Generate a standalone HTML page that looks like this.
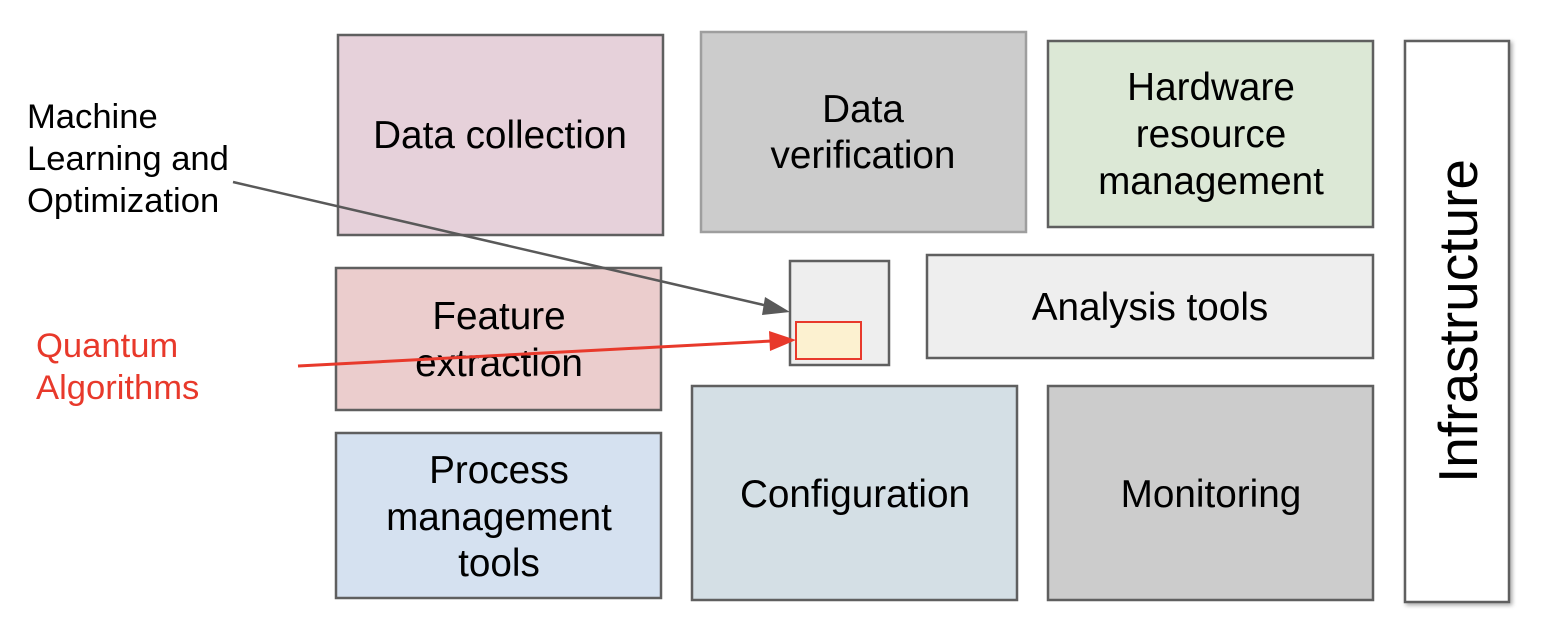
<!DOCTYPE html>
<html><head><style>body{margin:0;background:#fff}svg{display:block}text{font-family:"Liberation Sans",Arial,sans-serif}</style></head>
<body>
<svg width="1542" height="644" viewBox="0 0 1542 644" xmlns="http://www.w3.org/2000/svg">
<defs>
<filter id="sh" x="-10%" y="-10%" width="130%" height="130%"><feDropShadow dx="2" dy="2" stdDeviation="2" flood-color="#000" flood-opacity="0.35"/></filter>
</defs>
<g stroke-width="2.5" font-size="38.7" text-anchor="middle" fill="#000">
<rect x="338" y="35" width="325" height="200" fill="#e6d1da" stroke="#5f5f5f"/>
<text x="500" y="148">Data collection</text>
<rect x="701" y="32" width="325" height="200" fill="#cccccc" stroke="#9e9e9e"/>
<text x="863" y="122">Data</text><text x="863" y="168">verification</text>
<rect x="1048" y="41" width="325" height="186" fill="#dce8d6" stroke="#5f5f5f"/>
<text x="1211" y="100">Hardware</text><text x="1211" y="147">resource</text><text x="1211" y="194">management</text>
<rect x="1405" y="41" width="104" height="561" fill="#fff" stroke="#5f5f5f" filter="url(#sh)"/>
<text transform="translate(1477,321) rotate(-90)" font-size="55">Infrastructure</text>
<rect x="336" y="268" width="325" height="142" fill="#ebcdcd" stroke="#5f5f5f"/>
<text x="499" y="329">Feature</text><text x="499" y="376">extraction</text>
<rect x="790" y="261" width="99" height="104" fill="#eeeeee" stroke="#5f5f5f"/>
<rect x="796" y="322" width="65" height="37" fill="#fcf1d0" stroke="#e8392b" stroke-width="2"/>
<rect x="927" y="255" width="446" height="103" fill="#eeeeee" stroke="#5f5f5f"/>
<text x="1150" y="320">Analysis tools</text>
<rect x="336" y="433" width="325" height="165" fill="#d5e1f0" stroke="#5f5f5f"/>
<text x="499" y="483">Process</text><text x="499" y="530">management</text><text x="499" y="576">tools</text>
<rect x="692" y="386" width="325" height="214" fill="#d4dfe5" stroke="#5f5f5f"/>
<text x="855" y="507">Configuration</text>
<rect x="1048" y="386" width="325" height="214" fill="#cccccc" stroke="#5f5f5f"/>
<text x="1211" y="507">Monitoring</text>
</g>
<g font-size="34.6">
<text x="27" y="128">Machine</text><text x="27" y="170">Learning and</text><text x="27" y="212">Optimization</text>
<text x="36" y="357" fill="#e8392b">Quantum</text><text x="36" y="399" fill="#e8392b">Algorithms</text>
</g>
<line x1="233" y1="182" x2="768" y2="306" stroke="#595959" stroke-width="2.5"/>
<path d="M790,312L765,297L762,315z" fill="#595959"/>
<line x1="298" y1="366" x2="772" y2="341" stroke="#e8392b" stroke-width="3"/>
<path d="M796,340L769,331L770,351z" fill="#e8392b"/>
</svg>
</body></html>
